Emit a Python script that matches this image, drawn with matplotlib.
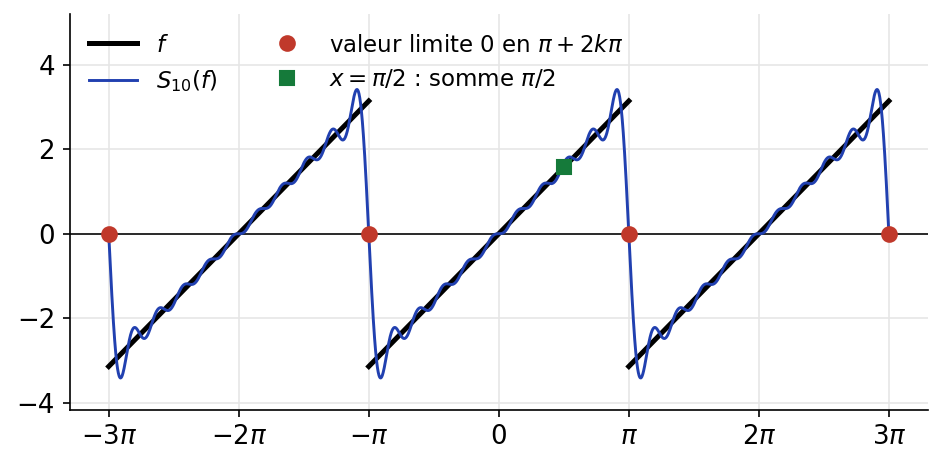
import numpy as np
import matplotlib
matplotlib.use('Agg')
import matplotlib.pyplot as plt

# Coefficients de Fourier de f(x) = x sur ]-pi, pi[ : b_n, n = 1..10
N_TERMS = [1, 2, 3, 4, 5, 6, 7, 8, 9, 10]
B_COEFS = [2, -1, 2/3, -1/2, 2/5, -1/3, 2/7, -1/4, 2/9, -1/5]

# Périodes affichées (décalages en multiples de 2*pi)
PERIODS = [-2, 0, 2]
# Points de discontinuité (multiples de pi) et valeur limite
JUMP_K = [-3, -1, 1, 3]
JUMP_VAL = [0, 0, 0, 0]
# Point particulier x = pi/2
SPECIAL_X = [np.pi / 2]
SPECIAL_Y = [np.pi / 2]

TICK_POS = [-3, -2, -1, 0, 1, 2, 3]
TICK_LAB = [r'$-3\pi$', r'$-2\pi$', r'$-\pi$', r'$0$', r'$\pi$', r'$2\pi$', r'$3\pi$']

BLUE = "#2140B0"
RED = "#C0392B"
GREEN = "#157A3A"

fig, ax = plt.subplots(figsize=(6.28, 3.12), dpi=150)
fig.subplots_adjust(left=0.074, right=0.985, bottom=0.125, top=0.97)

x = np.linspace(-3 * np.pi, 3 * np.pi, 3000)
s10 = np.zeros_like(x)
for n, b in zip(N_TERMS, B_COEFS):
    s10 += b * np.sin(n * x)

ax.axhline(0, color='#222222', lw=0.9, zorder=1)

for i, p in enumerate(PERIODS):
    xs = np.linspace(-np.pi, np.pi, 2) + p * np.pi
    ax.plot(xs, xs - p * np.pi, color='black', lw=2.4, zorder=2,
            label='$f$' if i == 0 else None)

ax.plot(x, s10, color=BLUE, lw=1.4, zorder=3, label=r'$S_{10}(f)$')

ax.plot(np.array(JUMP_K) * np.pi, JUMP_VAL, 'o', color=RED, ms=7, zorder=5,
        label=r'valeur limite 0 en $\pi+2k\pi$')
ax.plot(SPECIAL_X, SPECIAL_Y, 's', color=GREEN, ms=7, zorder=5,
        label=r'$x=\pi/2$ : somme $\pi/2$')

ax.set_xticks(np.array(TICK_POS) * np.pi)
ax.set_xticklabels(TICK_LAB)
ax.set_ylim(-4.16, 5.2)
ax.set_yticks([-4, -2, 0, 2, 4])
ax.tick_params(labelsize=12.5)
ax.grid(True, color='#E6E6E6', lw=0.8)
ax.set_axisbelow(True)
for s in ['top', 'right']:
    ax.spines[s].set_visible(False)

ax.legend(loc='upper left', ncol=2, frameon=False, fontsize=11,
          columnspacing=2.0, handlelength=2.1, borderaxespad=0.45)

fig.savefig('out.png', dpi=150)
